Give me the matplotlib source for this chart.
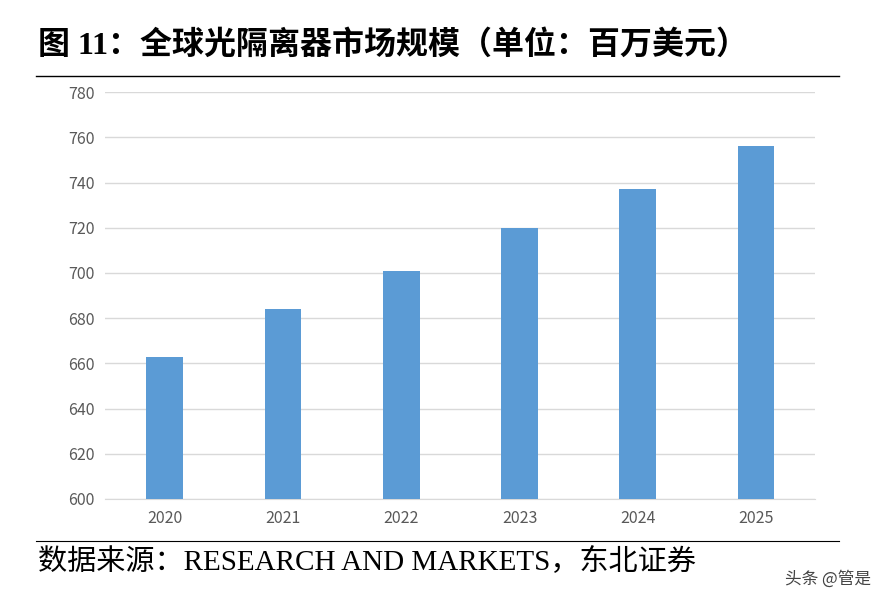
import matplotlib
matplotlib.use("Agg")
import matplotlib.pyplot as plt
from matplotlib.lines import Line2D

years = ["2020", "2021", "2022", "2023", "2024", "2025"]
values = [663, 684, 701, 720, 737, 756]
yticks = list(range(600, 781, 20))

plt.rcParams['font.family'] = ['Noto Sans CJK SC', 'DejaVu Sans']
fig = plt.figure(figsize=(8.93, 6.10), dpi=100)
ax = fig.add_axes([0.118, 0.182, 0.795, 0.667])
x = range(len(years))
ax.bar(x, values, width=0.31, color="#5b9bd5", zorder=3)
ax.set_ylim(600, 780)
ax.set_xlim(-0.5, len(years) - 0.5)
ax.set_yticks(yticks)
ax.set_xticks(list(x))
ax.set_xticklabels(years)
ax.grid(axis='y', color='#d9d9d9', linewidth=1, zorder=0)
for s in ['top', 'right', 'left']:
    ax.spines[s].set_visible(False)
ax.spines['bottom'].set_color('#d9d9d9')
ax.tick_params(length=0, labelsize=11.5, colors='#595959', pad=8)

fig.text(0.042, 0.925, "图 11：全球光隔离器市场规模（单位：百万美元）", fontsize=23, fontweight='bold', va='center',
         family=['Liberation Serif', 'Noto Sans CJK SC'])
fig.add_artist(Line2D([0.04, 0.94], [0.876, 0.876], color='black', linewidth=1))
fig.add_artist(Line2D([0.04, 0.94], [0.113, 0.113], color='black', linewidth=0.8))
fig.text(0.042, 0.078, "数据来源：RESEARCH AND MARKETS，东北证券", fontsize=21, va='center',
         family=['Liberation Serif', 'Noto Sans CJK SC'])
fig.text(0.975, 0.05, "头条 @管是", fontsize=12, color='#444444', ha='right', va='center')
fig.savefig("out.png", dpi=100, facecolor='white')
